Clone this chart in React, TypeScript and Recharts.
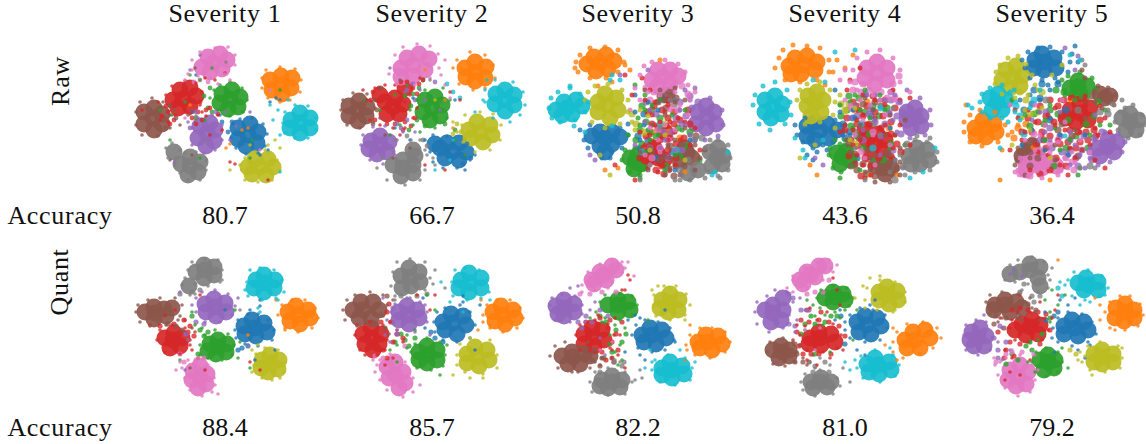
import React from 'react';
import { ScatterChart, Scatter, XAxis, YAxis } from 'recharts';

// t-SNE panels, values. Each list is x,y,x,y,...
// clusters in a panel follow the tab10 order
const COLORS = ['#1f77b4', '#ff7f0e', '#2ca02c', '#d62728', '#9467bd', '#8c564b', '#e377c2', '#7f7f7f', '#bcbd22', '#17becf'];
const SEVERITIES = ['Severity 1', 'Severity 2', 'Severity 3', 'Severity 4', 'Severity 5'];
const rawAccuracy = ['80.7', '66.7', '50.8', '43.6', '36.4'];
const quantAccuracy = ['88.4', '85.7', '82.2', '81.0', '79.2'];

const raw1Core = [
  [118,95,108,88,120,84,128,92,127,103,116,106,108,99],
  [151,45,140,40,151,36,162,38,161,48,152,54,142,50],
  [100,59,92,54,102,50,110,57,108,67,98,69,90,63],
  [53,59,43,60,50,50,60,48,66,56,60,66,48,68],
  [77,93,70,86,80,83,85,90,84,101,76,106,68,98],
  [23,78,14,72,24,68,32,74,32,84,24,90,14,84],
  [83,23,72,27,78,17,90,14,97,20,92,29,80,32],
  [60,126,51,124,60,117,70,122,68,132,58,135,44,112],
  [130,127,118,127,125,119,138,119,143,127,136,135,122,134],
  [170,83,161,80,170,73,180,78,180,88,170,93,160,88],
];
const raw1Specks = [
  [103,84,110,79,122,78,133,84,137,94,135,106,128,113,116,114,106,108,101,98,130,115,138,110,90,75,66,35,150,60,62,72,140,62,146,58],
  [132,38,136,30,150,27,165,29,171,40,170,52,160,60,150,62,138,58,132,48,100,104,112,90,60,65,96,108,118,88],
  [84,50,90,45,100,42,112,48,117,60,113,72,100,76,88,70,70,40,60,35,42,75,75,80,70,118,40,100,150,50,122,100,80,58,30,70,120,118,55,62,82,28],
  [36,55,42,46,55,41,66,43,72,52,70,65,60,74,45,75,75,38,85,40,88,75,12,70,28,62,92,90,105,124,138,140,62,50,95,33,72,72,80,95,38,82,30,80,100,122,76,76],
  [62,88,68,78,82,75,92,85,92,100,85,110,74,113,62,105,60,30,70,15,95,72,120,72,45,122,100,100,58,82,106,86],
  [6,72,10,62,22,58,33,62,40,75,40,88,28,96,12,95,6,85,58,75,50,85,62,115,65,28,40,120,44,70],
  [62,30,62,20,70,12,85,8,98,7,105,15,105,25,95,34,80,38,68,36,58,34,55,40,140,50,55,78,100,40,130,110,88,44],
  [36,108,42,103,50,110,46,118,38,118,45,125,50,133,58,140,70,140,76,130,76,120,66,112,55,113,75,100,96,22,66,76],
  [112,130,115,118,125,112,138,113,147,120,150,130,142,140,128,142,115,140,150,108,145,100,138,105,110,125,100,130,120,105,135,110],
  [153,83,155,72,165,65,178,66,186,78,186,90,178,98,165,98,155,93,148,70,140,65,150,95,158,60,143,80,150,132],
];
const raw1Mixed = [
  [98,92,102,82,92,82],
  [],
  [78,68,80,48,74,56,82,72,66,78],
  [68,72,72,80,62,78,38,72,32,76,40,84,44,80,66,84,76,70,70,62,56,72,80,68,36,66,88,74],
  [66,72,86,72,60,88],
  [40,66,46,78,36,88],
  [70,40,64,42,78,42],
  [],
  [],
  [],
];

const raw2Core = [
  [117,112,105,108,112,103,124,103,131,112,124,120,110,118,100,104],
  [140,32,130,28,140,22,151,27,150,38,140,41,131,37],
  [97,68,90,60,100,57,107,65,105,76,95,80,88,72],
  [58,67,50,62,60,58,68,64,64,74,52,74,45,55,70,48],
  [45,105,36,101,45,96,54,102,52,112,42,114,34,109],
  [23,70,14,66,24,61,32,67,31,76,23,81,14,76],
  [78,25,66,28,72,18,84,14,94,19,90,30,78,36,66,37],
  [68,128,58,125,68,120,78,125,78,133,66,136,78,110,80,116],
  [145,92,134,90,142,82,155,85,157,95,148,102,136,98],
  [170,60,161,54,170,50,179,55,179,65,170,71,160,64],
];
const raw2Specks = [
  [90,100,95,112,98,122,108,128,122,128,135,120,140,115,98,95,112,96,78,58,60,88,75,100,120,60,130,130],
  [118,28,122,20,135,12,150,15,158,25,160,38,150,48,138,50,124,44,118,88,110,60,90,30],
  [72,45,60,55,45,70,78,85,82,60,90,50,108,48,115,60,112,78,100,88,85,92,55,95,75,70,120,100,130,115,30,60,65,85],
  [40,48,32,60,35,80,45,85,70,88,78,78,82,68,75,55,60,45,50,45,28,50,65,95,90,125,110,130,125,60,42,60,85,38,70,62,58,88,115,52],
  [26,105,28,95,38,87,50,86,62,100,60,115,48,124,35,120,70,52,85,50,80,92,90,60,105,70,68,92,55,28],
  [6,70,8,60,18,53,32,54,40,68,38,82,25,88,12,85,45,78,50,95,65,40,58,118,75,108],
  [60,15,68,7,82,4,95,6,103,14,104,28,95,38,80,45,62,44,54,34,110,20,106,35,110,45,115,58,60,30],
  [42,128,48,118,58,112,76,100,85,100,92,115,90,130,85,140,70,145,52,140,60,100,98,118,100,125,95,40,90,110],
  [127,85,130,75,145,72,158,74,166,85,165,100,155,110,140,112,128,102,122,92,118,82,100,60],
  [150,50,152,40,160,40,178,42,188,52,190,65,185,75,175,82,158,78,150,62,118,100,100,130,115,120,148,60,140,72],
];
const raw2Mixed = [
  [132,104,128,124,136,118],
  [],
  [84,48,78,54,70,56,76,66,82,80,74,90,90,86,110,84,120,90,88,40],
  [44,48,38,52,72,42,78,48,82,54,80,78,76,86,68,90,40,80,36,60,70,82,84,44,60,84,52,84,66,42,88,40],
  [78,44,72,50,80,60,62,84,72,80,100,42,66,88],
  [40,60,42,70,46,48,38,84],
  [],
  [88,100,92,106,72,96],
  [122,84,118,94,126,92],
  [112,44,118,52,125,58],
];

const raw3Core = [
  [65,98,52,96,60,92,72,92,80,97,72,104,60,106,65,112],
  [60,23,47,24,54,17,66,15,74,21,68,29,56,31],
  [95,122,90,118,98,115,101,124,94,129],
  [117,113,108,117,124,120,125,92,118,118,114,108],
  [167,77,158,72,166,66,174,72,176,84,166,88,156,84],
  [147,113,140,120,152,118,127,55,145,108],
  [123,37,112,40,118,30,130,30,138,36,130,44,118,46],
  [177,118,170,112,178,108,183,116,182,124,172,126,158,130,148,133],
  [67,65,58,62,65,54,76,58,78,70,70,78,58,72],
  [27,68,16,70,24,62,36,60,42,66,32,74,22,75],
];
const raw3Specks = [
  [40,90,44,100,48,108,60,114,72,112,82,108,88,95,80,88,50,85,62,118,70,118,88,84,95,72,95,55,118,70,108,62,150,100,135,130,60,95,104,85,100,100,72,100],
  [36,22,40,15,50,8,65,7,78,10,84,22,78,32,66,38,50,38,38,32,90,30,85,25,72,42,35,28,65,130,78,128,120,20,145,132,58,46],
  [82,120,85,110,95,108,106,112,106,128,100,135,90,132,100,85,105,70,98,78,108,90,118,95,132,75,142,90,125,130,150,95,112,65,120,60,160,120,95,45,105,55,135,60,135,115,110,100,145,70,88,95,155,100,100,138],
  [105,105,110,95,115,85,120,82,130,82,135,92,128,100,118,102,108,128,118,132,130,130,105,60,115,62,128,65,138,78,145,82,150,105,160,110,112,75,100,92,125,72,140,100,135,125,155,88,95,140,75,125,85,35,102,38,92,55,110,50],
  [150,60,145,50,155,48,170,58,182,70,183,85,178,96,165,100,150,95,145,85,140,70,135,60,155,100,110,70,125,100,135,110,50,115,55,120,105,82,120,108,80,35,108,30,95,105],
  [128,105,135,100,155,105,160,118,155,130,140,135,130,128,130,118,120,50,135,48,135,62,118,62,105,50,112,85,100,112,125,75,145,88,165,110,108,130,125,135,110,108,145,60],
  [100,35,104,26,112,22,125,20,138,24,145,32,148,45,135,52,120,55,108,52,155,52,150,60,110,125,125,85,110,88,130,70,140,65,95,48,100,60,90,70,120,112,105,115,118,100,135,90,148,75],
  [165,108,170,100,178,100,188,105,190,118,188,130,178,136,165,138,150,140,140,140,142,135,168,132,100,140,135,140,180,138,120,88,130,60,110,125],
  [45,60,48,52,55,46,68,44,82,50,88,60,88,72,80,84,65,88,52,82,92,82,100,70,95,90,108,76,125,95,110,110,145,120,60,115,70,135],
  [9,68,11,58,18,52,30,48,40,54,48,62,45,72,35,80,20,82,12,78,30,46,34,86,70,40,72,35,80,40,45,92,172,135,188,112,175,132,72,86],
];
const raw3Mixed = [
  [104,74,98,96,108,100,122,58,100,108,116,118,132,112],
  [112,92,128,92,140,98],
  [102,66,106,82,100,90,110,92,120,78,138,88,146,106,116,96,126,126,104,128,112,70,134,64,140,116,150,92,96,100,102,104],
  [108,72,114,66,122,70,128,78,134,72,112,84,118,88,126,86,134,84,140,80,106,96,112,102,120,100,130,98,136,104,144,98,104,108,110,122,122,126,128,110,136,118,116,130,124,134,100,118,150,84,148,70,128,60],
  [140,62,146,76,152,68,136,78,124,92,116,74,110,108,132,92,142,84,128,118,106,62,158,62,150,56,142,110],
  [124,60,130,52,136,58,120,56,126,68,118,62,136,126,142,104,150,110,156,96,130,106,124,116,112,112,144,126,134,136,120,120],
  [106,48,114,52,122,50,132,46,142,46,148,54,110,60,118,90,112,118,128,100,132,66,120,108,138,70],
  [140,130,128,130,154,100,148,120,162,98],
  [96,84,104,92,92,74,124,84],
  [120,84,136,110,102,112],
];

const raw4Core = [
  [75,90,62,86,70,82,82,84,92,90,84,98,70,100,62,96],
  [58,25,44,26,50,18,62,16,72,22,70,30,56,34,46,34],
  [97,117,92,113,101,112,104,120,95,124],
  [130,103,122,100,132,94,140,100,138,110,126,112,120,90],
  [170,78,162,72,170,68,176,76,176,86,166,88,162,80],
  [138,128,131,126,140,122,146,128,140,134],
  [132,33,122,28,132,22,142,28,142,40,130,44,120,38],
  [173,115,164,116,172,108,182,110,184,120,175,124,166,124],
  [70,63,63,56,72,52,78,60,76,72,66,76,62,66],
  [28,67,20,60,30,56,37,64,36,74,26,78,20,72],
];
const raw4Specks = [
  [50,85,52,95,58,102,68,108,78,105,88,102,98,95,100,85,90,80,60,78,72,112,82,110,110,78,105,95,108,70,95,72,90,50,128,70,145,88,150,120,68,120,62,115],
  [34,18,38,10,48,5,62,6,75,8,84,20,84,32,72,40,55,42,40,40,92,20,88,32,100,28,108,15,80,45,65,125,72,135,125,135,152,135,30,28],
  [84,115,85,108,95,104,106,108,110,118,108,126,96,132,88,128,105,62,95,65,110,55,120,50,108,88,100,100,125,78,140,70,150,95,128,120,115,130,145,108,90,100,115,70,135,55,160,105,95,138],
  [108,90,112,80,118,75,130,78,140,85,150,95,148,108,148,118,122,120,112,115,108,105,115,100,125,85,135,88,100,85,118,55,130,60,140,65,155,85,155,60,118,125,126,135,112,65,102,50,95,92,105,40,115,28,148,50,165,58,120,138,165,105],
  [155,62,150,55,162,50,175,58,185,70,186,85,180,95,165,98,152,92,148,80,140,60,130,55,145,72,125,70,110,65,118,90,130,80,135,115,70,118,78,125,122,55,105,78],
  [125,130,125,118,130,115,145,115,155,122,155,135,145,142,130,142,120,132,115,85,128,70,105,112,110,125,140,95,155,108,120,58,145,75,135,60,102,100,160,80],
  [108,30,112,18,122,12,135,10,148,18,155,30,155,42,145,52,128,55,112,50,105,42,100,30,115,60,125,65,135,60,150,60,165,52,118,80,128,95,110,95,140,75,145,105,130,125,100,60,95,40,105,65,120,118],
  [155,115,160,105,170,100,182,102,192,112,192,122,185,130,170,132,158,128,150,120,145,132,160,135,172,96,185,98,120,140,135,95,110,108,148,68],
  [52,60,55,50,62,44,75,42,85,50,90,62,88,75,75,82,60,84,95,55,100,72,110,68,105,100,90,88,55,118,70,105],
  [8,65,10,55,18,46,30,42,42,50,45,62,46,75,40,84,25,90,14,84,50,98,58,110,68,40,80,42,60,118,190,108,178,132,90,12,110,10,165,138,78,100],
];
const raw4Mixed = [
  [104,92,98,84,108,78,120,54,100,98,112,118,126,76],
  [122,62,144,88,110,70],
  [102,70,106,86,114,58,120,72,112,96,124,94,100,106,134,76,142,68,128,66,146,104,138,120,104,56,96,76,118,108,108,122],
  [108,62,114,70,122,66,130,72,138,76,146,82,112,84,118,92,106,100,112,106,124,84,136,88,146,94,152,104,146,116,120,118,110,124,126,126,134,118,118,76,102,78,100,90,140,60,128,56,150,68,116,136,104,116,156,112],
  [146,60,154,62,152,76,144,74,136,96,124,74,112,76,140,84,156,94,130,82,118,100,146,52,158,72,148,110],
  [118,124,122,134,130,136,148,134,152,128,112,130,106,126,124,110,114,98,118,64,130,62,136,66,142,112,104,104,110,114],
  [108,50,116,52,124,50,136,52,148,44,154,36,110,42,118,44,130,54,142,58,106,68,128,92,116,112,150,58],
  [158,126,150,140,128,84,110,92,162,104],
  [100,70,104,64,96,64,110,104],
  [136,68,116,84,128,108],
];

const raw5Core = [
  [95,22,85,20,92,14,104,18,106,28,94,30,84,28],
  [35,88,25,88,33,80,44,84,46,92,36,97,26,96],
  [128,47,120,48,128,41,137,46,130,54],
  [130,73,120,70,130,64,140,68,138,80,126,82,116,78],
  [157,107,148,108,158,100,167,102,164,112,150,116],
  [155,58,150,54,160,56,78,112,72,116,82,106],
  [90,122,76,124,84,120,98,122,106,126,92,128,76,130],
  [180,82,172,78,180,74,188,80,186,90,176,90],
  [63,37,56,30,66,26,72,36,70,46,60,48,52,40],
  [47,62,40,58,48,54,56,60,52,70,42,70],
];
const raw5Specks = [
  [72,20,78,12,88,8,100,7,112,12,120,22,118,32,105,38,92,40,80,38,75,28,128,22,122,14,98,45,108,42,72,105,82,90,70,60,90,60,100,78,110,95,135,95,95,110,118,115,125,6,80,55,100,50],
  [14,82,20,75,30,70,45,72,55,85,58,95,48,102,32,106,20,102,14,92,62,92,68,85,52,110,50,140,100,140,120,60,16,65],
  [112,40,118,36,130,32,142,38,146,48,138,56,125,60,115,55,100,65,95,80,105,88,120,100,140,95,150,85,88,72,75,75,110,110,130,128,95,100,155,70,160,85,128,135,62,60],
  [105,68,110,60,120,58,135,56,150,66,155,78,145,88,130,92,115,90,105,85,98,75,92,95,85,82,78,70,108,100,120,108,140,105,148,95,160,92,75,92,68,78,98,115,125,118,60,110,88,112,110,125,145,120,80,130,135,60,65,70,72,100,118,135,132,110,155,128],
  [140,108,145,100,155,92,168,94,175,102,172,112,160,122,148,125,140,118,130,115,125,105,135,128,120,92,110,72,95,92,82,80,145,75,120,125,100,100,90,72,128,16,115,8,125,30],
  [145,52,148,46,158,48,165,55,164,65,152,68,145,62,68,108,70,120,65,125,75,135,85,100,135,78,125,90,105,105,95,85,80,118,135,38,132,30,105,120],
  [70,118,68,130,78,136,92,138,108,135,118,128,115,118,100,112,85,110,72,122,122,112,108,102,90,95,75,100,95,85,115,82,130,100,60,65,85,65,112,60,125,122,140,112,65,132],
  [170,72,175,68,183,65,192,75,194,85,190,95,178,98,168,90,165,82,158,70,162,64,172,60,132,20,135,25,130,128,145,128],
  [46,32,50,25,58,18,68,16,76,24,82,35,85,45,78,55,65,58,52,54,45,44,88,50,75,70,72,78,92,68,80,90,102,35,112,25,62,105,100,118],
  [30,62,32,54,40,48,52,45,60,52,66,62,65,72,52,78,40,78,32,72,22,68,18,65,70,80,58,82,80,68,90,50,64,50,120,15,50,108,130,20,115,96],
];
const raw5Mixed = [
  [90,58,84,50,108,44,116,70,74,70,82,64,100,80,92,44,120,110],
  [76,84,68,88,84,108,64,98],
  [106,50,114,52,122,54,100,70,94,84,108,74,118,80,126,96,136,84,144,76,84,74,80,86,116,108,104,126,138,108,132,56,148,62],
  [100,60,108,66,114,60,122,58,90,66,96,76,104,82,112,76,120,90,128,92,136,92,144,90,150,80,88,82,82,92,92,92,100,96,110,104,118,102,126,108,106,118,116,126,96,108,86,104,78,78,72,92,130,102,138,100,100,130,90,134,146,96],
  [140,112,132,110,126,118,118,114,110,96,100,88,90,100,120,100,134,96,144,98,112,112,152,92,142,120,128,126,102,108,96,72],
  [82,100,74,104,70,112,80,112,88,118,92,112,136,60,142,56,108,90,94,100,80,126,128,116,122,96,112,84,68,120],
  [72,120,86,130,96,126,110,130,116,118,124,130,102,120,90,110,80,136,70,134,100,104,84,94,108,100,94,116,122,122],
  [150,72,158,74,140,126,128,70,96,60],
  [76,60,80,74,70,52,88,72,92,52],
  [70,76,66,66,74,94,84,60],
];

const quant1Core = [
  [125,78,114,76,122,70,134,73,137,82,126,86,115,84],
  [168,65,158,62,166,56,178,60,180,68,170,74,160,71],
  [88,97,80,94,88,90,97,94,96,102,86,104,78,101],
  [43,90,35,88,44,83,52,88,50,96,40,98],
  [85,57,75,54,84,49,95,53,96,62,86,66,76,62],
  [25,63,15,62,24,57,34,59,36,66,24,69,42,58],
  [70,127,63,121,70,116,77,124,76,134,68,138,62,130],
  [75,20,66,22,74,15,84,17,84,25,74,28,59,36],
  [140,113,132,110,140,105,149,110,148,119,138,122,131,118],
  [135,33,126,30,134,25,145,30,144,38,134,42,124,38],
];
const quant1Specks = [
  [105,80,108,70,118,64,128,64,138,70,144,80,142,90,128,96,115,94,106,88,130,50,130,56,120,60,145,100,95,60,125,110],
  [148,65,152,55,162,50,175,50,185,58,188,68,182,78,168,82,155,78,146,50,155,80,118,85],
  [70,95,75,85,85,80,98,84,104,95,102,105,92,110,78,108,70,105,72,78,65,75,108,108,110,92,50,110,62,62,105,60,120,118],
  [27,90,30,80,42,75,55,78,60,90,62,100,50,104,35,102,55,70,65,82,68,108,60,95,70,45,130,120,45,60,35,65,20,75,75,120,120,112],
  [66,48,72,42,85,40,98,44,105,56,102,65,90,72,75,72,66,62,62,55,108,48,118,95,58,90,55,120,50,42],
  [6,62,8,55,18,50,30,48,45,48,52,55,48,70,36,75,20,76,10,72,50,66,62,78,28,72,60,118],
  [52,118,58,110,68,108,78,115,84,128,82,142,72,146,60,140,55,128,50,112,46,120,85,135,88,144],
  [58,20,62,12,75,9,88,10,92,20,90,32,78,36,65,34,52,35,55,28,65,44,60,45,92,30,110,60],
  [124,115,126,104,135,98,148,100,155,112,154,122,142,130,132,128,122,122,122,100,128,95,150,128],
  [117,32,120,20,130,18,144,20,152,30,154,42,146,48,132,50,118,46,128,58,130,62,148,50,115,40],
];
const quant1Mixed = [
  [112,98,108,100,118,96],
  [],
  [70,80,74,86,62,66,68,104,78,82],
  [60,76,54,70,44,74,64,86,30,76,58,82],
  [66,72,74,74,56,84],
  [46,76,52,80,38,74],
  [66,110,54,112,74,108,50,104],
  [50,44,62,42,70,40],
  [],
  [],
];

const quant2Core = [
  [118,73,108,72,116,64,128,66,131,75,122,84,110,80],
  [168,65,158,62,166,56,178,60,180,68,170,74,160,71],
  [93,105,84,102,92,96,102,100,102,110,92,113,84,110],
  [37,88,28,84,36,78,46,84,44,94,38,100,30,94],
  [73,65,64,62,72,56,82,60,84,68,74,74,64,70],
  [28,60,18,60,26,52,38,52,44,60,36,68,24,68],
  [60,125,52,117,60,112,68,122,70,133,64,138,54,128],
  [75,27,66,26,74,18,84,22,85,32,76,36,67,38],
  [142,107,132,104,140,97,152,100,154,110,144,116,132,113],
  [135,33,126,30,134,23,146,28,146,38,134,42,124,38],
];
const quant2Specks = [
  [99,72,102,62,110,58,125,55,135,62,140,75,135,88,122,92,108,90,100,82,128,46,128,52,88,48,140,100,145,55,90,78],
  [148,65,152,55,162,50,175,50,185,58,188,68,182,78,168,82,155,78,146,50,148,72,155,75,143,80],
  [76,102,80,94,92,88,105,92,110,105,108,116,96,120,82,118,72,98,72,85,62,95,80,80,105,125,100,60,62,112,55,100,92,45,112,95],
  [20,85,22,75,35,72,48,75,52,90,50,100,42,105,30,105,55,72,62,80,68,92,58,108,50,115,100,45,95,60,82,45,25,100],
  [56,62,60,54,72,48,85,52,92,62,92,72,80,82,62,80,52,70,50,85,95,85,90,55,55,92,48,48],
  [8,60,12,50,20,45,35,42,48,45,52,55,48,66,40,76,22,76,10,70,50,78,58,50,54,84],
  [40,122,45,110,55,104,70,112,78,128,78,142,68,147,52,140,45,130,38,110,42,115,85,135,50,112],
  [58,22,62,12,75,9,90,12,95,28,90,40,75,48,60,46,56,36,100,20,98,34,60,50,110,38],
  [122,105,125,94,135,88,155,90,162,105,162,118,148,124,130,122,122,115,118,125,135,128,148,128],
  [117,32,120,20,130,18,144,20,152,30,154,42,146,48,132,50,118,46,128,62,115,52,155,50,106,32],
];
const quant2Mixed = [
  [100,88,96,82,108,92],
  [],
  [70,90,74,96,60,92,66,84,80,88],
  [46,72,52,62,56,72,48,100,58,92,62,84,68,88,52,108,54,54],
  [58,72,58,58,62,84],
  [42,74,50,78,52,46,46,64],
  [48,108,40,106,70,96],
  [66,46,82,46,92,44],
  [],
  [],
];

const quant3Core = [
  [112,85,102,85,110,78,122,80,126,88,116,94,104,92],
  [168,92,158,92,166,85,178,86,182,94,172,100,160,98],
  [78,55,68,55,78,50,88,52,90,60,78,62],
  [53,87,44,84,52,78,62,80,64,90,54,96,44,94],
  [25,58,16,56,24,50,34,54,34,62,24,66,18,64],
  [33,107,22,106,32,102,44,104,50,106,40,114,28,114],
  [63,25,52,30,60,22,72,16,76,20,66,30,54,34],
  [72,132,62,130,72,126,82,130,80,137,68,138,60,136],
  [130,53,122,50,130,44,139,50,138,60,128,62,120,58],
  [132,120,122,118,130,112,142,116,144,124,132,128,122,125],
];
const quant3Specks = [
  [92,85,96,75,105,70,118,72,130,78,134,90,125,100,112,102,98,98,95,65,100,68,125,60,135,92,100,105,105,110,85,102,88,70],
  [146,95,150,85,160,78,172,78,185,82,190,92,185,102,170,108,155,105,147,100,150,75,145,110],
  [60,52,65,45,80,44,92,46,97,55,92,65,80,70,65,68,56,62,75,75,70,85,80,95,75,102,82,110,85,78,78,115,62,72,50,68,108,70],
  [36,85,40,75,55,70,68,74,74,85,70,98,55,102,40,100,72,100,78,105,80,85,75,68,58,65,85,40,88,25,90,30,72,108,82,40,85,118],
  [10,55,12,48,22,44,35,46,42,55,42,64,30,72,15,70,45,72,50,60,55,52,38,36,30,38,60,88,65,105],
  [10,106,15,96,25,92,40,95,56,100,62,108,50,118,32,122,18,118,48,92,55,112,60,115,38,122],
  [42,35,48,22,60,14,72,10,82,12,82,22,72,32,55,40,42,42,85,18,94,26,88,12,68,38,72,92,60,100],
  [50,132,55,122,68,118,85,122,92,132,85,144,68,145,52,142,75,110,80,112,100,120,95,130,102,128],
  [114,55,114,45,124,36,136,36,146,44,150,55,145,65,130,70,116,66,112,40,118,36,130,38,145,70],
  [112,120,115,110,128,105,145,108,152,118,150,130,135,135,120,132,112,112,155,112,105,118,110,100,140,100],
];
const quant3Mixed = [
  [],
  [],
  [66,72,60,66,76,80,72,102,82,92,86,84,70,94,64,108],
  [60,68,70,70,68,78,76,84,72,92,62,102,58,74,46,72,82,72,78,100,66,110,50,100,74,112],
  [42,78,38,72,52,72,60,60,46,66,68,66],
  [54,100,62,108,52,110,46,100,72,108,60,116],
  [40,44,50,44,62,42,76,42],
  [74,112,84,112,60,122,82,116],
  [],
  [],
];

const quant4Core = [
  [122,75,112,72,120,66,132,68,136,76,126,84,114,82],
  [170,90,160,90,168,82,180,80,185,88,175,98,162,98],
  [90,47,80,48,88,42,98,44,100,50,88,52],
  [75,88,65,88,74,82,86,84,90,92,76,95,64,94],
  [28,63,20,60,28,55,38,60,36,70,26,72,38,48],
  [37,102,28,100,36,96,44,100,44,106,34,108],
  [65,25,55,30,62,22,74,16,80,16,70,27,58,34],
  [75,132,66,132,76,128,86,132,82,137,68,138],
  [143,45,134,42,142,37,152,41,153,50,144,54,134,50],
  [133,115,122,114,130,108,144,112,146,120,134,124,124,122],
];
const quant4Specks = [
  [100,72,105,65,115,58,128,60,140,65,142,78,135,90,120,92,105,88,100,80,95,60,130,50,125,55,112,100,90,70,120,105],
  [148,92,152,82,162,74,178,72,192,78,196,88,188,98,175,104,158,108,148,102,148,78,140,95,152,110],
  [72,48,76,40,88,36,102,38,108,48,104,56,90,62,75,58,70,66,80,65,68,55,60,80,95,68,100,60,62,50,85,102,78,75,112,60,108,90],
  [55,85,60,76,72,70,88,74,96,85,92,98,78,102,62,100,55,95,52,75,65,58,95,55,82,62,98,100,72,115,62,110,88,28,92,40,48,90,85,108],
  [10,62,12,52,22,46,30,40,42,42,48,52,44,65,38,78,24,82,12,74,52,70,60,60,55,48,50,82],
  [22,102,25,92,38,88,48,92,52,102,50,112,40,116,28,114,55,95,62,115,58,108,68,105],
  [42,38,48,26,60,18,72,12,84,10,86,18,78,30,62,38,48,42,88,22,92,15,70,100,60,80,75,78,48,30],
  [56,132,60,124,75,120,92,128,95,136,88,144,70,146,58,140,65,112,85,115,75,108,70,118,105,132,98,118],
  [120,50,122,38,135,30,150,32,160,42,160,52,150,60,132,60,120,58,118,36,110,48,135,26,125,28,148,62],
  [112,118,116,106,130,100,148,105,154,115,150,126,135,132,118,128,110,110,145,98,105,120,100,112],
];
const quant4Mixed = [
  [96,66,100,94],
  [],
  [66,66,70,74,60,74,80,72,70,104,86,66,92,66,56,84],
  [56,70,64,72,74,70,84,72,52,82,58,104,66,104,74,104,86,104,94,76,54,96,100,86,62,60,76,62],
  [50,76,44,74,56,60,64,60,48,48,44,44],
  [52,104,58,112,50,112,64,112,50,94],
  [62,44,70,42,78,42,84,30],
  [70,116,80,112,68,122,84,122],
  [],
  [],
];

const quant5Core = [
  [125,78,114,76,122,70,134,72,138,80,128,86,114,84],
  [175,62,166,58,175,54,184,60,184,68,174,71,165,68],
  [98,112,90,110,98,105,105,110,104,118,94,120],
  [80,77,72,74,82,70,90,75,88,84,76,85,65,80],
  [28,88,22,82,30,78,36,86,34,96,24,96,20,90],
  [55,55,45,55,55,50,66,52,72,58,60,62,44,60],
  [68,127,60,120,70,115,78,122,76,134,66,136,58,130],
  [80,20,70,22,80,14,90,17,88,28,60,24,90,36],
  [153,107,144,104,152,100,163,104,163,112,152,114,144,112],
  [138,35,128,33,136,28,148,32,148,40,134,40],
];
const quant5Specks = [
  [103,78,108,68,118,62,132,64,142,72,146,84,138,92,122,96,108,92,102,88,118,55,125,48,140,95,95,62,110,50,128,100,105,102,135,108],
  [155,62,160,52,170,46,180,46,190,54,193,65,188,76,175,80,160,78,150,70,150,55,145,48,165,80,108,10],
  [82,112,86,102,96,98,108,102,112,112,108,122,96,126,85,122,80,92,100,62,108,55,88,90,112,98,78,112,102,40,115,45,100,72,95,50,118,118],
  [62,70,68,62,80,62,95,68,98,80,92,90,78,92,65,90,60,78,50,68,70,45,90,52,102,68,55,100,62,108,108,45,60,122,80,110,70,125,55,130,105,60],
  [14,85,16,75,26,70,36,72,42,88,40,100,28,105,16,100,48,92,52,78,34,65,60,100,52,110,60,24,64,20,72,26],
  [36,52,40,45,52,42,68,44,80,48,82,58,70,66,52,68,40,64,72,70,85,62,90,70,48,72,60,50,75,52],
  [50,112,56,108,70,105,82,115,85,130,80,142,68,146,55,138,48,125,44,108,88,120,62,100,45,115],
  [60,15,68,10,82,7,94,12,98,25,98,38,88,42,78,34,65,32,72,40,55,30,100,30,102,18,70,42],
  [135,106,138,96,150,92,168,96,172,108,170,118,155,122,140,120,132,112,142,125,128,110,172,98,130,102],
  [118,30,124,22,138,20,152,26,158,38,150,46,135,50,122,46,115,35,155,45,130,55,140,52,110,32],
];
const quant5Mixed = [
  [104,66,108,62,96,70],
  [],
  [76,96,82,100,62,104,92,84,68,110,56,114,100,68,80,92],
  [62,60,70,58,78,60,88,62,96,64,100,80,60,92,70,94,56,100,54,108,90,94,64,106,48,82],
  [44,88,48,100,56,92,48,108,50,76],
  [46,66,56,68,68,68,78,54,44,74,86,60,54,78],
  [56,104,62,102,72,102,46,112,84,104],
  [74,34,82,46,90,46,70,42,84,52],
  [120,100,126,104],
  [108,38,112,46],
];

const rawCores = [raw1Core, raw2Core, raw3Core, raw4Core, raw5Core];
const rawSpecks = [raw1Specks, raw2Specks, raw3Specks, raw4Specks, raw5Specks];
const rawMixed = [raw1Mixed, raw2Mixed, raw3Mixed, raw4Mixed, raw5Mixed];
const quantCores = [quant1Core, quant2Core, quant3Core, quant4Core, quant5Core];
const quantSpecks = [quant1Specks, quant2Specks, quant3Specks, quant4Specks, quant5Specks];
const quantMixed = [quant1Mixed, quant2Mixed, quant3Mixed, quant4Mixed, quant5Mixed];

const toRows = (flat: number[]) => {
  const rows: { x: number; y: number }[] = [];
  for (let i = 0; i < flat.length; i += 2) rows.push({ x: flat[i], y: flat[i + 1] });
  return rows;
};

const dot = (r: number, color: string, opacity: number) => (p: any) => (
  <circle cx={p.cx} cy={p.cy} r={r} fill={color} fillOpacity={opacity} />
);

const FONT = '"Liberation Serif", serif';

function Panel({ core, specks, mixed, speckR, mixedR, left, top }: { core: number[][]; specks: number[][]; mixed: number[][]; speckR: number; mixedR: number; left: number; top: number }) {
  return (
    <div style={{ position: 'absolute', left, top }}>
      <ScatterChart width={200} height={150} margin={{ top: 0, right: 0, bottom: 0, left: 0 }}>
        <XAxis type="number" dataKey="x" domain={[0, 200]} hide />
        <YAxis type="number" dataKey="y" domain={[0, 150]} reversed hide />
        {core.map((pts, i) => (
          <Scatter key={`c${i}`} data={toRows(pts)} shape={dot(8.5, COLORS[i], 0.92)} isAnimationActive={false} />
        ))}
        {mixed.map((pts, i) => (
          <Scatter key={`m${i}`} data={toRows(pts)} shape={dot(mixedR, COLORS[i], 0.78)} isAnimationActive={false} />
        ))}
        {specks.map((pts, i) => (
          <Scatter key={`s${i}`} data={toRows(pts)} shape={dot(speckR, COLORS[i], 0.8)} isAnimationActive={false} />
        ))}
      </ScatterChart>
    </div>
  );
}

function Txt({ x, y, children, rotate, word }: { x: number; y: number; children: React.ReactNode; rotate?: boolean; word?: boolean }) {
  return (
    <div
      style={{
        position: 'absolute',
        left: x,
        top: y,
        transform: `translate(-50%, -50%)${rotate ? ' rotate(-90deg)' : ''}`,
        fontFamily: FONT,
        fontSize: 26,
        letterSpacing: word ? 0.7 : 0,
        color: '#111',
        whiteSpace: 'nowrap',
        lineHeight: 1,
      }}
    >
      {children}
    </div>
  );
}

const CENTERS = [225, 432, 638, 845, 1052];

export default function App() {
  return (
    <div style={{ position: 'absolute', left: 0, top: 0, width: 1146, height: 444, overflow: 'hidden', background: '#fff' }}>
      {SEVERITIES.map((s, i) => (
        <Txt key={s} x={CENTERS[i]} y={14} word>{s}</Txt>
      ))}
      <Txt x={61} y={81} rotate word>Raw</Txt>
      <Txt x={60} y={282} rotate word>Quant</Txt>
      <Txt x={60} y={216} word>Accuracy</Txt>
      <Txt x={60} y={428} word>Accuracy</Txt>
      {rawAccuracy.map((v, i) => (
        <Txt key={`r${i}`} x={CENTERS[i]} y={216}>{v}</Txt>
      ))}
      {quantAccuracy.map((v, i) => (
        <Txt key={`q${i}`} x={CENTERS[i]} y={428}>{v}</Txt>
      ))}
      {rawCores.map((core, i) => (
        <Panel key={`raw${i}`} core={core} specks={rawSpecks[i]} mixed={rawMixed[i]} speckR={i < 2 ? 1.8 : 2.5} mixedR={i < 2 ? 2.4 : 3.6} left={130 + 205 * i} top={40} />
      ))}
      {quantCores.map((core, i) => (
        <Panel key={`quant${i}`} core={core} specks={quantSpecks[i]} mixed={quantMixed[i]} speckR={1.8} mixedR={2.6} left={130 + 205 * i} top={250} />
      ))}
    </div>
  );
}
